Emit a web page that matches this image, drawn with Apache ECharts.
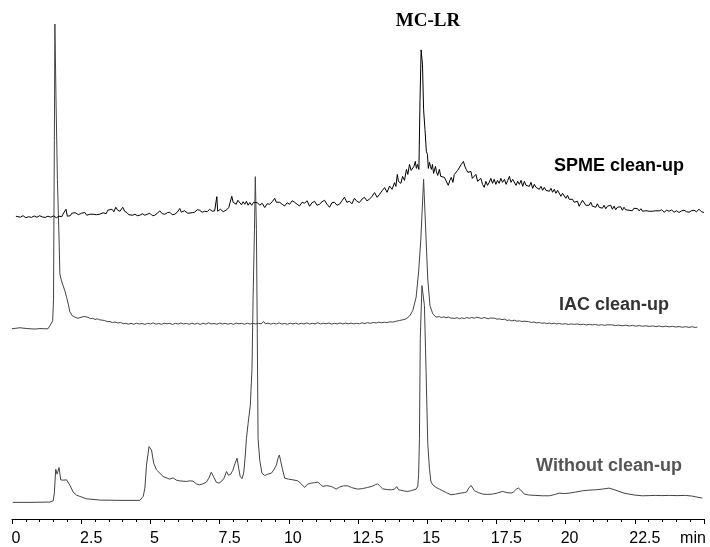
<!DOCTYPE html>
<html>
<head>
<meta charset="utf-8">
<script src="https://cdn.jsdelivr.net/npm/echarts@6/dist/echarts.min.js"></script>
<style>html,body{margin:0;padding:0;background:#fff}#c{width:710px;height:547px}</style>
</head>
<body>
<div id="c"></div>
<script>
// Retention time (min) vs. detector response (stacked, arbitrary units)
const seriesNames = ['SPME clean-up', 'IAC clean-up', 'Without clean-up'];
const peakLabel = 'MC-LR';
const xTicks = [0, 2.5, 5, 7.5, 10, 12.5, 15, 17.5, 20, 22.5];
const xUnit = 'min';

const spme = [[0.14,304],[0.2,304],[0.3,303],[0.4,304.5],[0.5,302.5],[0.6,303.5],[0.7,302.8],[0.8,304.2],[0.9,303],[1.0,304.5],[1.1,303.2],[1.2,302.8],[1.3,304],[1.4,303],[1.5,304.3],[1.6,302.5],[1.7,304],[1.8,303.5],
[1.84,306],[1.90,305],[1.95,311],[2.00,304],[2.06,306],[2.11,304.5],[2.16,307],[2.22,305],[2.28,307.5],[2.34,308],[2.40,305.5],[2.45,305],[2.51,307],[2.57,305.5],[2.63,307.7],[2.70,305],[2.76,307],[2.81,306],[2.87,304.5],[2.93,306],[2.99,304],[3.05,305.5],[3.11,304.5],[3.17,306],[3.23,305],[3.29,307.5],[3.35,308],[3.40,306.5],[3.46,310],[3.53,308],[3.61,311],[3.68,308.5],[3.75,313],[3.82,310],[3.90,309],[3.95,311],[4.00,313],[4.07,309],[4.15,307.7],[4.22,305.5],[4.29,306],[4.36,305],[4.44,306],[4.53,304.5],[4.62,305],[4.71,306.5],[4.80,305],[4.89,306],[4.98,307],[5.07,304.5],[5.16,305],[5.25,307],[5.34,309.3],[5.43,306.5],[5.52,306],[5.61,307.5],[5.70,308],[5.79,305.5],[5.88,306],[5.97,308],[6.06,311.7],[6.12,308],[6.17,307],[6.23,309.5],[6.28,309],[6.35,307],[6.42,309],[6.51,307.5],[6.60,308],[6.69,310.5],[6.78,310],[6.87,308],[6.96,309],[7.05,308.5],[7.14,311],[7.23,309],[7.32,309.3],[7.37,310],[7.40,323.7],[7.43,309],[7.47,308],[7.53,311],[7.58,310],[7.63,308.5],[7.68,310],[7.76,310.5],[7.83,312.7],[7.88,311],[7.94,324],[7.99,318],[8.04,319.3],
[8.10,316],[8.16,320],[8.23,318],[8.29,315.5],[8.35,318.5],[8.41,316],[8.47,319],[8.53,315],[8.59,317.7],[8.66,315],[8.73,318],[8.80,316],[8.87,317.5],[8.95,315],[9.04,317],[9.13,312.7],[9.22,316.5],[9.31,316],[9.40,318.5],[9.45,317],[9.49,322],[9.55,318],[9.61,320],[9.67,318],[9.76,316],[9.85,314.3],[9.94,317.5],[10.03,316],[10.12,319.5],[10.21,318],[10.30,316],[10.39,314.3],[10.48,318],[10.57,317],[10.66,319.5],[10.75,314],[10.84,317.5],[10.93,319],[11.02,315],[11.11,316],[11.20,318.5],[11.29,320],[11.38,316],[11.47,313],[11.56,317.5],[11.65,318],[11.74,315],[11.83,316],[11.92,319.5],[12.01,323],[12.10,318],[12.19,319],[12.28,316.5],[12.37,322],[12.46,319],[12.55,317.7],[12.64,321],[12.73,323],[12.82,319.5],[12.91,321],
[13.01,324],[13.10,327.7],[13.19,323],[13.28,326],[13.37,329.5],[13.46,332.7],[13.55,328],[13.64,334.3],[13.73,331],[13.82,337.7],[13.87,334],[13.92,346],[13.96,339],[14.00,341],[14.05,337],[14.11,344],[14.18,340],[14.25,351],[14.30,346],[14.36,356],[14.42,350],[14.47,349],[14.52,354],[14.57,359],[14.61,352],[14.65,356],[14.70,351],
[14.74,420],[14.78,471],[14.83,456],[14.87,411],[14.92,391],[14.97,369],[15.01,366],[15.04,352],[15.08,358],[15.12,354],[15.15,351],[15.19,356],[15.23,347],[15.26,348],[15.30,354],[15.33,349],[15.38,345],[15.44,351],[15.49,344],[15.55,346],[15.62,343],[15.69,341],[15.76,335],[15.82,340],[15.87,343],[15.93,338],[15.98,346],[16.05,344],[16.10,350],[16.16,349],[16.23,356],[16.31,359],[16.36,354],[16.41,351],[16.47,348],[16.52,346],[16.58,349],[16.63,342],[16.70,343],[16.76,346],[16.82,339],[16.88,338],[16.94,342],[17.00,336],[17.06,333],[17.12,339],[17.18,335],[17.24,338],[17.30,342],[17.36,337],[17.42,341],[17.48,336],[17.54,340],[17.60,337],[17.66,342],[17.72,338],[17.79,341],[17.85,336],[17.91,340],[17.97,344],[18.03,338],[18.09,341],[18.15,340],[18.21,335],[18.27,339],[18.33,336],[18.39,340],[18.45,334],[18.51,339],[18.57,335],[18.63,337],[18.69,334],[18.75,338],[18.81,332],[18.87,336],[18.93,333],[18.99,335],[19.05,331],[19.11,334],[19.17,330],[19.23,333],[19.29,330],[19.35,332],[19.41,329],[19.47,332],[19.53,328],[19.59,331],[19.65,327],[19.71,330],[19.77,328],[19.83,324],[19.89,327],[19.95,326],[20.01,322],[20.07,325],[20.13,321],[20.19,319],[20.25,321],[20.31,318],[20.37,316],[20.43,319],[20.49,314],[20.55,317],[20.61,320],[20.67,319],[20.73,315],[20.79,317],[20.85,315],[20.91,318],[20.97,314],[21.03,316],[21.09,313],[21.15,316.5],[21.21,313],[21.27,315],[21.33,312],[21.39,315],[21.45,311.5],[21.51,314],[21.57,312],[21.63,315],[21.69,311],[21.75,314],[21.81,310.5],[21.87,313],[21.93,311],[21.99,313.5],[22.05,310],[22.11,313],[22.17,310.5],[22.23,312.5],[22.29,310],[22.35,312],[22.41,309.5],[22.47,312],[22.53,310],[22.60,311.5],[22.66,309.3],[22.72,311.5],[22.78,309],[22.84,311],[22.90,309.5],[22.96,311],[23.02,309],[23.08,310.5],[23.14,309],[23.20,311],[23.26,309.5],[23.32,310],[23.38,309.3],[23.47,310.5],[23.56,308],[23.65,310],[23.74,309],[23.83,310.3],[23.92,308],[24.01,309.5],[24.10,307.7],[24.19,309.5],[24.28,310],[24.37,308.5],[24.46,308],[24.55,309.5],[24.64,310],[24.73,308.5],[24.82,311],[24.91,308.5],[25.00,307.7]];

const iac = [[0.00,191],[0.14,191.5],[0.29,192],[0.36,190.5],[0.51,191.3],[0.65,191],[0.83,190.7],[1.01,191.2],[1.19,191],[1.30,191],[1.37,194],[1.47,199],[1.50,221],[1.53,380],[1.55,497],[1.59,421],[1.64,341],[1.70,281],[1.73,246],[1.79,239],[1.85,234],[1.91,229],[1.97,223],[2.04,215],[2.09,208],[2.18,204],[2.27,202.7],[2.38,201.5],
[2.45,202],[2.53,202.8],[2.63,203.3],[2.70,202],[2.74,202.5],[2.83,201.3],[2.92,201.5],[3.00,200.3],[3.08,201],[3.17,200],[3.26,199.6],[3.35,199.3],[3.44,198.2],[3.54,198.3],[3.63,197.2],[3.72,197.8],[3.82,196.8],[3.92,197.3],[4.02,196.2],[4.11,196.5],[4.20,195.6],[4.30,196.4],[4.40,195.5],[4.50,196.6],[4.60,195.7],[4.70,196.3],[4.80,195.4],[4.90,196.5],[5.00,195.8],[5.10,196.9],[5.20,195.6],[5.30,196.3],[5.40,195.5],[5.50,196.6],[5.60,195.9],[5.70,196.4],[5.80,195.3],[5.90,196.5],[6.00,195.7],[6.10,196.8],[6.20,195.8],[6.30,196.4],[6.40,195.5],[6.50,196.6],[6.60,195.7],[6.70,196.5],[6.80,195.4],[6.90,196.6],[7.00,195.6],[7.10,196.9],[7.20,195.8],[7.30,196.3],[7.40,195.5],[7.50,196.7],[7.60,195.8],[7.70,196.5],[7.80,195.6],[7.90,196.4],[8.00,195.4],[8.10,196.7],[8.20,195.9],[8.30,196.4],[8.40,195.5],[8.50,196.6],[8.60,195.7],[8.70,196.5],[8.80,195.8],[8.90,196.5],[9.00,196],[9.09,198.3],[9.15,196],[9.25,196.6],[9.35,195.7],[9.45,196.5],[9.55,195.8],[9.65,196.9],[9.75,195.7],[9.85,196.4],[9.95,195.5],[10.05,196.6],[10.15,195.8],[10.25,196.7],[10.35,195.6],[10.45,196.5],[10.55,195.8],[10.65,196.9],[10.75,195.7],[10.85,196.5],[10.95,195.9],[11.05,197],[11.15,195.8],[11.25,196.6],[11.35,196],[11.45,196.8],[11.55,195.7],[11.65,196.5],[11.75,195.9],[11.85,196.8],[11.95,195.8],[12.05,196.6],[12.15,196],[12.25,196.7],[12.35,195.9],[12.45,196.5],[12.55,196],[12.65,197],[12.75,196.2],[12.84,197.2],[12.95,196.4],[13.05,197.3],[13.16,196.8],[13.25,197.6],[13.35,197],[13.46,197.6],[13.55,197.1],[13.65,198],[13.76,197.7],[13.88,198.6],[14.00,199.3],[14.12,200],[14.24,201],
[14.36,203.7],[14.48,209.3],[14.60,222.7],[14.69,248],[14.77,281],[14.87,341],[14.96,281],[15.02,241],[15.10,214.3],
[15.20,206],[15.32,202.7],[15.44,203.2],[15.52,202.2],[15.60,203],[15.68,202],[15.76,202.8],[15.84,201.8],[15.91,202.5],[16.00,201.4],[16.08,202.2],[16.16,201],[16.25,202],[16.34,201.2],[16.43,202.3],[16.52,201.5],[16.61,202.4],[16.70,201.6],[16.79,202.5],[16.88,202],[16.97,201.3],[17.05,202.4],[17.12,202],[17.20,201],[17.28,201.8],[17.35,201],[17.44,201.6],[17.52,200.6],[17.60,201],[17.70,200.2],[17.80,200.6],[17.88,199.4],[17.97,199.8],[18.06,198.9],[18.15,199.6],[18.24,198.6],[18.33,199],[18.42,198.3],[18.50,198.6],[18.57,197.7],[18.66,198.2],[18.76,197.3],[18.86,197.8],[18.95,196.9],[19.05,197.3],[19.14,196.5],[19.23,197],[19.32,196.2],[19.41,196.8],[19.50,196],[19.59,196.6],[19.68,195.8],[19.77,196.3],[19.88,195.6],[20.00,196.1],[20.10,195.3],[20.20,195.9],[20.31,195.4],[20.42,195.9],[20.53,195],[20.64,195.6],[20.75,194.8],[20.86,195.4],[20.97,194.9],[21.08,195.3],[21.19,194.5],[21.30,195.1],[21.41,194.4],[21.50,195],[21.57,194.3],[21.68,194.9],[21.80,194.2],[21.92,194.7],[22.04,194],[22.17,194.5],[22.30,193.8],[22.42,194.4],[22.54,193.6],[22.66,194.2],[22.78,193.5],[22.90,194],[23.02,193.3],[23.14,193.9],[23.26,193.2],[23.38,193.8],[23.50,193],[23.62,193.6],[23.74,192.9],[23.86,193.5],[23.98,192.7],[24.10,193.2],[24.22,192.5],[24.34,193.1],[24.46,192.4],[24.58,193],[24.68,192.3],[24.76,192.7]];

const raw = [[0.03,16.7],[0.65,16.7],[1.37,17],[1.49,18.3],[1.53,26],[1.58,50],[1.63,45],[1.70,51.7],[1.76,39.3],[1.85,39],[1.91,40],[1.97,39.3],[2.09,34],[2.21,27],[2.33,24],[2.45,22.7],[2.69,20.3],[3.17,19],[3.90,18.7],[4.62,18.7],[4.68,19.3],[4.74,22.7],[4.80,31],[4.86,54.3],[4.95,72.7],[5.04,69.3],[5.12,56],[5.22,49.3],[5.46,42.7],[5.70,40],[5.82,41.3],[5.94,39],[6.06,38.3],[6.30,37.7],[6.42,38.3],[6.54,38],[6.66,35.3],[6.78,34.3],[6.90,35.3],[7.02,37],[7.11,41],[7.20,47],[7.29,42],[7.38,37],[7.48,36],[7.58,38],[7.66,41],[7.75,47.7],[7.82,44],[7.90,45],[7.98,49],[8.06,56],[8.13,61],[8.19,51],[8.24,43],[8.31,40.5],[8.37,46],[8.42,61],[8.47,81],[8.53,96],[8.61,114.3],[8.67,151],[8.71,221],[8.76,291],[8.79,343.7],[8.83,291],[8.86,191],[8.89,81],[8.95,59],[9.03,46],[9.13,43.7],[9.24,45],[9.37,46],[9.45,49],[9.55,54],[9.61,61],[9.66,64.3],[9.70,59],[9.77,50],[9.85,41],[9.99,40],[10.15,39.3],[10.33,38.3],[10.46,35],[10.57,31.7],[10.68,35],[10.81,36],[10.93,36.5],[11.05,37],[11.15,34.5],[11.23,32.7],[11.36,33.5],[11.53,32.7],[11.62,31.5],[11.71,30],[11.83,32],[11.98,33.3],[12.13,33.3],[12.27,31.5],[12.49,30],[12.66,30.5],[12.85,31.7],[13.02,33],[13.13,34.5],[13.21,35.3],[13.31,32.5],[13.39,30.3],[13.56,29.5],[13.70,29.3],[13.82,30],[13.90,32.5],[13.96,29.5],[14.03,28.7],[14.18,28],[14.30,27.7],[14.43,28.5],[14.60,30],[14.66,33],[14.69,44.3],[14.72,81],[14.75,181],[14.81,234.3],[14.84,236],[14.90,214.3],[14.96,148],[15.02,76],[15.08,51],[15.13,38],[15.20,34.3],[15.32,31.7],[15.44,30],[15.56,28.3],[15.69,26.5],[15.86,24.3],[16.02,25],[16.22,26],[16.34,26.5],[16.42,27],[16.50,31],[16.58,33.7],[16.65,31],[16.70,28.5],[16.85,26.5],[17.00,25],[17.17,24.7],[17.36,25],[17.53,26],[17.72,27.7],[17.88,26.5],[18.03,26],[18.11,27],[18.22,30],[18.30,31],[18.38,29],[18.51,25],[18.69,24],[18.93,23.7],[19.16,23.3],[19.41,23.3],[19.59,24.5],[19.77,26],[19.95,25.5],[20.13,26],[20.35,27],[20.61,28.3],[20.85,29],[21.09,29.3],[21.32,30],[21.57,31],[21.75,29.5],[21.93,27.7],[22.11,26],[22.29,25],[22.51,24],[22.77,23.3],[23.02,23.5],[23.26,23.7],[23.48,23.5],[23.74,23.7],[24.03,23.5],[24.34,23.7],[24.57,23],[24.75,22],[24.94,21]];

const chart = echarts.init(document.getElementById('c'), null, {renderer: 'canvas'});
const lbl = {fontFamily: 'Liberation Sans, Arial, sans-serif', fontSize: 16, color: '#000'};
chart.setOption({
  animation: false,
  backgroundColor: '#fff',
  grid: {left: 12, right: 6, top: 21, bottom: 26, containLabel: false},
  xAxis: {
    type: 'value', min: 0, max: 25, interval: 2.5,
    axisLine: {show: true, lineStyle: {color: '#000', width: 1}},
    axisTick: {show: true, length: 5, inside: false, lineStyle: {color: '#000'}},
    minorTick: {show: true, splitNumber: 5, length: 3, lineStyle: {color: '#000'}},
    splitLine: {show: false},
    axisLabel: {
      show: true, margin: 12, showMinLabel: true, showMaxLabel: true,
      formatter: function (v) {
        if (v === 25) return '{m|' + xUnit + '}';
        if (xTicks.indexOf(v) < 0) return '';
        return (v % 1 !== 0) ? '{d|' + v + '}' : '{i|' + v + '}';
      },
      rich: {
        d: Object.assign({padding: [0, 0, 0, 20]}, lbl),
        i: Object.assign({padding: [0, 0, 0, 8]}, lbl),
        m: Object.assign({padding: [0, 22, 0, 0]}, lbl)
      }
    }
  },
  yAxis: {type: 'value', min: 0, max: 500, show: false},
  series: [
    {name: seriesNames[2], type: 'line', data: raw, showSymbol: false, symbol: 'none',
     lineStyle: {color: '#444', width: 1}},
    {name: seriesNames[1], type: 'line', data: iac, showSymbol: false, symbol: 'none',
     lineStyle: {color: '#444', width: 1}},
    {name: seriesNames[0], type: 'line', data: spme, showSymbol: false, symbol: 'none',
     lineStyle: {color: '#000', width: 1}}
  ],
  graphic: [
    {type: 'text', x: 428, y: 21.5, style: {text: peakLabel, fill: '#000',
      font: 'bold 19px "Liberation Serif", "Times New Roman", serif', align: 'center', verticalAlign: 'middle'}},
    {type: 'text', x: 619, y: 166.5, style: {text: seriesNames[0], fill: '#000',
      font: 'bold 18px "Liberation Sans", Arial, sans-serif', align: 'center', verticalAlign: 'middle'}},
    {type: 'text', x: 614, y: 305.5, style: {text: seriesNames[1], fill: '#333',
      font: 'bold 18px "Liberation Sans", Arial, sans-serif', align: 'center', verticalAlign: 'middle'}},
    {type: 'text', x: 609, y: 466, style: {text: seriesNames[2], fill: '#555',
      font: 'bold 18px "Liberation Sans", Arial, sans-serif', align: 'center', verticalAlign: 'middle'}}
  ]
});
</script>
</body>
</html>
